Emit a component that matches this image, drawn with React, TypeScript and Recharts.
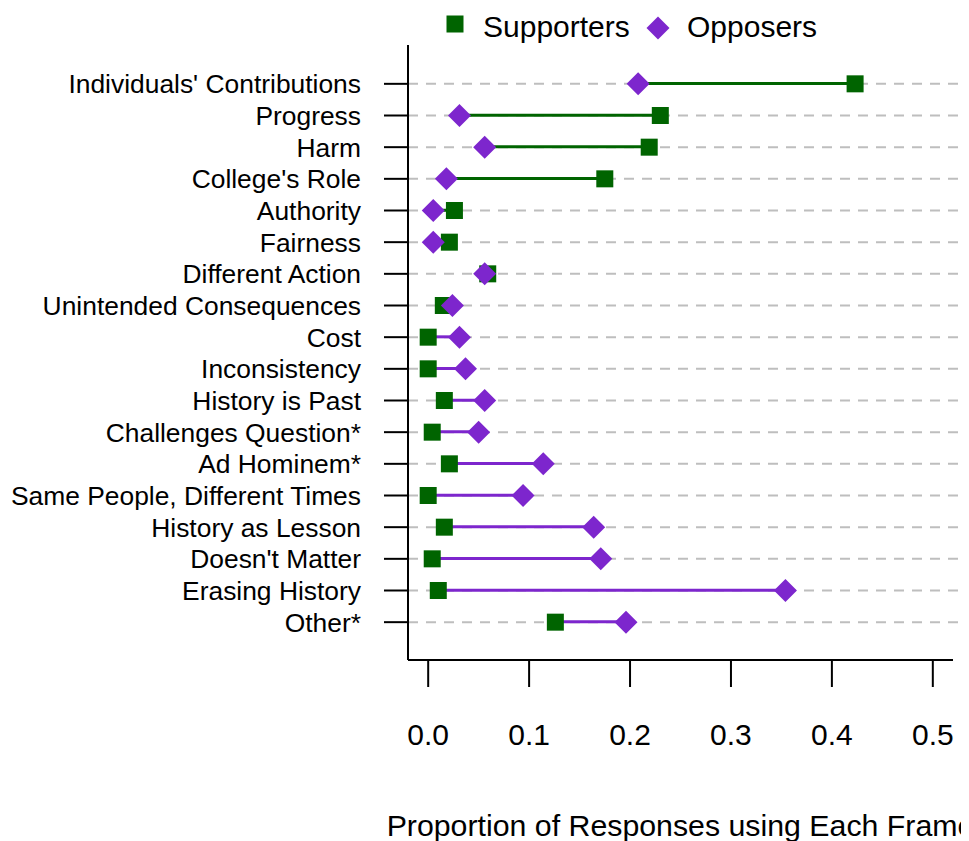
import React from 'react';
import { ComposedChart, Bar, Line, Cell, XAxis, YAxis, CartesianGrid } from 'recharts';

const categories = [
  "Individuals' Contributions",
  'Progress',
  'Harm',
  "College's Role",
  'Authority',
  'Fairness',
  'Different Action',
  'Unintended Consequences',
  'Cost',
  'Inconsistency',
  'History is Past',
  'Challenges Question*',
  'Ad Hominem*',
  'Same People, Different Times',
  'History as Lesson',
  "Doesn't Matter",
  'Erasing History',
  'Other*'
];
const supporters = [0.423, 0.230, 0.219, 0.175, 0.026, 0.021, 0.059, 0.015, 0.0, 0.0, 0.016, 0.004, 0.021, 0.0, 0.016, 0.004, 0.010, 0.126];
const opposers = [0.208, 0.031, 0.056, 0.018, 0.005, 0.005, 0.056, 0.024, 0.031, 0.037, 0.056, 0.050, 0.114, 0.094, 0.164, 0.171, 0.354, 0.196];
const xTicks = [0, 0.1, 0.2, 0.3, 0.4, 0.5];

const GREEN = '#006400';
const PURPLE = '#7D26CD';
const FONT = '"Liberation Sans", Arial, sans-serif';

const data = categories.map((name, i) => ({
  name,
  sup: supporters[i],
  opp: opposers[i],
  range: [Math.min(supporters[i], opposers[i]), Math.max(supporters[i], opposers[i])]
}));

const Square = (props: any) => {
  const { cx, cy, index } = props;
  if (cx == null || cy == null) return <g key={`s-${index}`} />;
  return <rect key={`s-${index}`} x={cx - 8.5} y={cy - 8.5} width={17} height={17} fill={GREEN} />;
};

const Diamond = (props: any) => {
  const { cx, cy, index } = props;
  if (cx == null || cy == null) return <g key={`d-${index}`} />;
  const r = 11.5;
  return (
    <polygon
      key={`d-${index}`}
      points={`${cx},${cy - r} ${cx + r},${cy} ${cx},${cy + r} ${cx - r},${cy}`}
      fill={PURPLE}
    />
  );
};

// dashed row guides, running a bit past the end of the x axis like the original
const GridLine = (props: any) => {
  const top = props.y ?? 37;
  const bottom = top + (props.height ?? 615);
  if (props.y1 <= top + 1 || props.y1 >= bottom - 1) return <g key={`g-${props.index}`} />;
  return (
    <line
      key={`g-${props.index}`}
      x1={props.x1}
      x2={props.x2 + 16}
      y1={props.y1}
      y2={props.y2}
      stroke="#BEBEBE"
      strokeWidth={2}
      strokeDasharray="10 8"
    />
  );
};

export default function App() {
  return (
    <div style={{ position: 'relative', width: 961, height: 833, fontFamily: FONT }}>
      <ComposedChart
        width={961}
        height={833}
        data={data}
        layout="vertical"
        margin={{ top: 37, right: 16, left: 0, bottom: 0 }}
      >
        <CartesianGrid vertical={false} horizontal={GridLine} />
        <XAxis
          type="number"
          domain={[-0.02, 0.52]}
          ticks={xTicks}
          allowDataOverflow
          tickFormatter={(v: number) => v.toFixed(1)}
          height={181}
          tickSize={27}
          tickMargin={37}
          axisLine={{ stroke: '#000', strokeWidth: 2 }}
          tickLine={{ stroke: '#000', strokeWidth: 2 }}
          tick={{ fill: '#000', fontSize: 30, fontFamily: FONT }}
          label={{
            value: 'Proportion of Responses using Each Frame',
            position: 'insideBottom',
            offset: 5,
            style: { fill: '#000', fontSize: 30.3, fontFamily: FONT }
          }}
        />
        <YAxis
          type="category"
          dataKey="name"
          width={400}
          interval={0}
          tickSize={24}
          tickMargin={23}
          padding={{ top: 23, bottom: 22 }}
          axisLine={{ stroke: '#000', strokeWidth: 2 }}
          tickLine={{ stroke: '#000', strokeWidth: 2 }}
          tick={{ fill: '#000', fontSize: 26.4, fontFamily: FONT }}
        />
        <Bar dataKey="range" barSize={3} isAnimationActive={false}>
          {data.map((d, i) => (
            <Cell key={`c-${i}`} fill={d.sup > d.opp ? GREEN : PURPLE} />
          ))}
        </Bar>
        <Line
          dataKey="sup"
          name="Supporters"
          stroke="none"
          strokeWidth={0}
          dot={Square}
          activeDot={false}
          isAnimationActive={false}
        />
        <Line
          dataKey="opp"
          name="Opposers"
          stroke="none"
          strokeWidth={0}
          dot={Diamond}
          activeDot={false}
          isAnimationActive={false}
        />
      </ComposedChart>
      <svg
        width={961}
        height={50}
        style={{ position: 'absolute', left: 0, top: 0, pointerEvents: 'none' }}
      >
        <rect x={438.5} y={7.5} width={17} height={17} fill={GREEN} />
        <text x={475} y={29} fontSize={30} fontFamily={FONT} fill="#000">Supporters</text>
        <polygon points="650,8.5 661.5,20 650,31.5 638.5,20" fill={PURPLE} />
        <text x={679} y={29} fontSize={30} fontFamily={FONT} fill="#000">Opposers</text>
      </svg>
    </div>
  );
}
